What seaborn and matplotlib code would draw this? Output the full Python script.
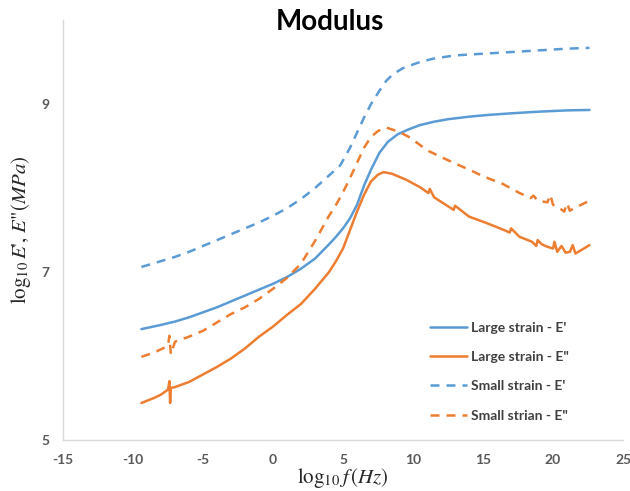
import matplotlib
matplotlib.use("Agg")
import matplotlib.pyplot as plt
import seaborn as sns
import pandas as pd

# log10 frequency (Hz) and log10 modulus (MPa) for each series
large_e1_x = [-9.4, -8.0, -7.0, -6.0, -5.0, -4.0, -3.0, -2.0, -1.0, 0.0, 1.0, 2.0, 3.0,
              4.0, 4.5, 5.0, 5.5, 6.0, 6.5, 7.0, 7.6, 8.2, 8.9, 9.7, 10.5, 11.5, 12.5,
              14.0, 15.3, 17.0, 19.0, 21.0, 22.6]
large_e1_y = [6.32, 6.37, 6.41, 6.46, 6.52, 6.58, 6.65, 6.72, 6.79, 6.86, 6.94, 7.04, 7.16,
              7.33, 7.42, 7.52, 7.64, 7.80, 8.03, 8.22, 8.42, 8.55, 8.64, 8.70, 8.75, 8.79,
              8.82, 8.85, 8.87, 8.89, 8.91, 8.925, 8.93]

large_e2_x = [-9.4, -8.5, -8.0, -7.5, -7.4, -7.35, -7.3, -7.0, -6.0, -5.0, -4.0, -3.0,
              -2.0, -1.0, 0.0, 1.0, 2.0, 3.0, 4.0, 4.5, 5.0, 5.5, 6.0, 6.5, 7.0, 7.5,
              7.9, 8.5, 9.5, 10.5, 11.1, 11.2, 11.5, 12.9, 13.0, 14.0, 15.3, 16.5, 16.9,
              17.0, 17.6, 18.5, 18.8, 18.9, 19.2, 19.6, 20.0, 20.1, 20.3, 20.6, 20.9,
              21.2, 21.4, 21.6, 22.0, 22.6]
large_e2_y = [5.44, 5.50, 5.54, 5.60, 5.70, 5.44, 5.62, 5.63, 5.69, 5.78, 5.87, 5.97,
              6.09, 6.23, 6.35, 6.49, 6.62, 6.80, 7.00, 7.13, 7.28, 7.50, 7.72, 7.92, 8.08,
              8.16, 8.19, 8.17, 8.10, 8.01, 7.94, 7.99, 7.89, 7.74, 7.79, 7.66, 7.58, 7.50,
              7.47, 7.52, 7.42, 7.36, 7.31, 7.38, 7.33, 7.30, 7.28, 7.36, 7.24, 7.31, 7.23,
              7.24, 7.32, 7.22, 7.26, 7.32]

small_e1_x = [-9.4, -8.0, -7.0, -6.0, -5.0, -4.0, -3.0, -2.0, -1.0, 0.0, 1.0, 2.0, 3.0,
              4.0, 4.8, 5.5, 6.0, 6.5, 7.0, 7.6, 8.1, 8.6, 9.3, 10.3, 11.4, 13.0, 15.0,
              17.0, 19.0, 21.0, 22.6]
small_e1_y = [7.06, 7.13, 7.18, 7.24, 7.31, 7.38, 7.45, 7.52, 7.59, 7.67, 7.76, 7.87, 8.00,
              8.15, 8.27, 8.48, 8.66, 8.84, 9.00, 9.16, 9.28, 9.36, 9.43, 9.49, 9.54, 9.58,
              9.60, 9.62, 9.64, 9.66, 9.67]

small_e2_x = [-9.4, -8.5, -8.0, -7.5, -7.4, -7.3, -7.0, -6.0, -5.0, -4.0, -3.0, -2.0,
              -1.0, 0.0, 1.0, 2.0, 3.0, 4.0, 4.5, 5.0, 5.5, 6.0, 6.5, 7.0, 7.5, 8.1, 9.0,
              9.8, 11.0, 12.0, 12.9, 14.0, 15.0, 16.4, 17.5, 18.4, 18.6, 18.9, 19.6,
              19.8, 20.0, 20.3, 20.8, 21.0, 21.2, 21.5, 22.0, 22.6]
small_e2_y = [5.99, 6.04, 6.08, 6.12, 6.24, 6.02, 6.17, 6.23, 6.30, 6.40, 6.50, 6.58,
              6.68, 6.80, 6.93, 7.10, 7.37, 7.67, 7.80, 7.95, 8.12, 8.30, 8.48, 8.61, 8.68,
              8.72, 8.67, 8.60, 8.45, 8.37, 8.30, 8.22, 8.14, 8.05, 7.95, 7.88, 7.91, 7.85,
              7.83, 7.92, 7.80, 7.78, 7.72, 7.82, 7.73, 7.76, 7.80, 7.85]

labels = ["Large strain - E'", 'Large strain - E"', "Small strain - E'", 'Small strian - E"']
xs = [large_e1_x, large_e2_x, small_e1_x, small_e2_x]
ys = [large_e1_y, large_e2_y, small_e1_y, small_e2_y]

BLUE = "#5B9BD5"
ORANGE = "#ED7D31"
colors = [BLUE, ORANGE, BLUE, ORANGE]
dash = (0, (3.6, 2.8))
styles = ["-", "-", dash, dash]

sns.set_style("white")
plt.rcParams["font.family"] = ["Lato", "DejaVu Sans"]
plt.rcParams["mathtext.fontset"] = "stix"
plt.rcParams["axes.unicode_minus"] = False

fig = plt.figure(figsize=(6.3, 4.91), dpi=100)
ax = fig.add_axes([0.1, 0.104, 0.889, 0.855])

for x, y, lab, c, ls in zip(xs, ys, labels, colors, styles):
    df = pd.DataFrame({"x": x, "y": y})
    sns.lineplot(data=df, x="x", y="y", ax=ax, color=c, linestyle=ls, lw=1.8,
                 label=lab, sort=False, estimator=None)

ax.set_xlim(-15, 25)
ax.set_ylim(5, 10)
ax.set_xticks(range(-15, 30, 5))
ax.set_yticks([5, 7, 9])
ax.tick_params(axis="both", length=0, labelsize=10, labelcolor="#595959", pad=10)
for lbl in ax.get_xticklabels() + ax.get_yticklabels():
    lbl.set_fontweight("bold")

for side in ["top", "right"]:
    ax.spines[side].set_visible(False)
for side in ["left", "bottom"]:
    ax.spines[side].set_color("#D9D9D9")
    ax.spines[side].set_linewidth(1.0)

ax.set_xlabel(r"$\log_{10} f\,(Hz)$", fontsize=15, labelpad=0, family="STIXGeneral")
ylab = r"$\log_{10}E$" + "', " + r"$E$" + '"' + r"$(MPa)$"
ax.set_ylabel(ylab, fontsize=15, labelpad=6, family="STIXGeneral")

fig.text(330 / 630, 1 - 22 / 491, "Modulus", ha="center", va="center",
         fontsize=20, fontweight="bold", color="black")

leg = ax.legend(loc="upper left", bbox_to_anchor=(0.655, 0.282), frameon=False,
                fontsize=10, handlelength=2.7, handletextpad=0.25, labelspacing=1.25,
                borderpad=0, borderaxespad=0)
for t in leg.get_texts():
    t.set_color("#404040")
    t.set_fontweight("bold")

fig.savefig("out.png", dpi=100)
